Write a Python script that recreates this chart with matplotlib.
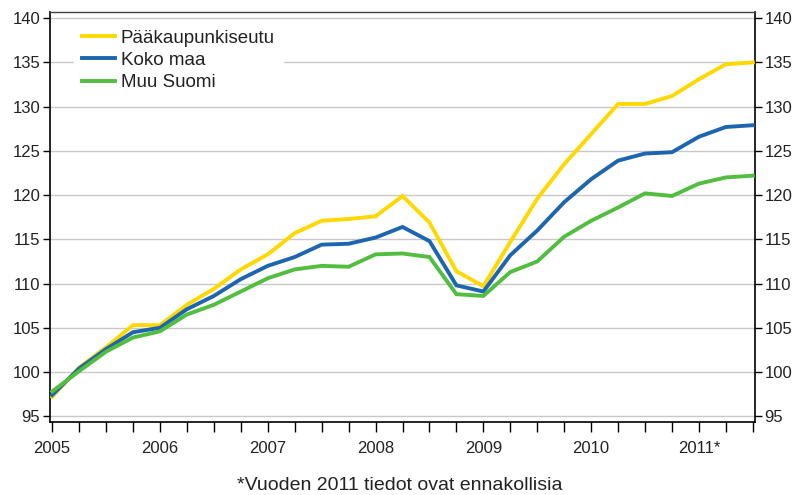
import matplotlib
matplotlib.use("Agg")
import matplotlib.pyplot as plt
import numpy as np

plt.rcParams['font.family'] = ['Liberation Sans', 'DejaVu Sans']

quarters = list(range(27))  # 2005Q1 .. 2011Q3
year_labels = ["2005", "2006", "2007", "2008", "2009", "2010", "2011*"]
year_positions = [0, 4, 8, 12, 16, 20, 24]

paakaupunkiseutu = [97.2, 100.5, 102.8, 105.3, 105.3, 107.6, 109.4, 111.6, 113.3,
                    115.7, 117.1, 117.3, 117.6, 119.9, 116.9, 111.4, 109.7,
                    114.7, 119.6, 123.5, 126.9, 130.3, 130.3, 131.2, 133.1, 134.8, 135.0]
koko_maa = [97.4, 100.4, 102.6, 104.5, 105.0, 107.1, 108.6, 110.5, 112.0,
            113.0, 114.4, 114.5, 115.2, 116.4, 114.8, 109.8, 109.1,
            113.2, 116.0, 119.2, 121.8, 123.9, 124.7, 124.85, 126.6, 127.7, 127.9]
muu_suomi = [97.8, 100.1, 102.3, 103.9, 104.6, 106.5, 107.6, 109.1, 110.6,
             111.6, 112.0, 111.9, 113.3, 113.4, 113.0, 108.8, 108.6,
             111.3, 112.5, 115.3, 117.1, 118.6, 120.2, 119.9, 121.3, 122.0, 122.2]

series = [("Pääkaupunkiseutu", paakaupunkiseutu, "#FFD800"),
          ("Koko maa", koko_maa, "#1D66AF"),
          ("Muu Suomi", muu_suomi, "#52BE40")]

fig = plt.figure(figsize=(7.95, 4.95), dpi=100)
ax = fig.add_axes([50/795, 73/495, 705/795, 410/495])

for name, vals, col in series:
    ax.plot(quarters, vals, color=col, lw=2.8, label=name, solid_joinstyle='miter', zorder=3)

ax.set_xlim(-0.08, 26.08)
ax.set_ylim(94.35, 140.7)
yt = np.arange(95, 141, 5)
ax.set_yticks(yt)
ax.set_yticklabels([str(v) for v in yt])
ax.yaxis.grid(True, color="#C8C8C8", lw=1.0)
ax.set_axisbelow(True)

ax.set_xticks(year_positions)
ax.set_xticklabels(year_labels)
ax.set_xticks(quarters, minor=True)
ax.tick_params(axis='x', which='both', length=7, width=1, direction='out', color='black')
ax.tick_params(axis='x', which='major', pad=7, labelsize=12, labelcolor='#222222')
ax.tick_params(axis='y', which='both', length=5, width=1, direction='out',
               left=True, right=True, labelleft=True, labelright=True,
               labelsize=12, labelcolor='#222222', pad=2)

for s in ["left", "right", "bottom"]:
    ax.spines[s].set_color("black")
    ax.spines[s].set_linewidth(1.2)
ax.spines["top"].set_color("#444444")
ax.spines["top"].set_linewidth(1.0)

leg = ax.legend(loc="upper left", bbox_to_anchor=(24/705, 1 - 9/410), frameon=True,
                fontsize=13.5, handlelength=1.75, handletextpad=0.3,
                labelspacing=0.28, borderaxespad=0.0, borderpad=0.45)
leg.get_frame().set_facecolor("white")
leg.get_frame().set_edgecolor("white")
leg.get_frame().set_alpha(1.0)
leg.get_frame().set_boxstyle("square", pad=0.0)
for t in leg.get_texts():
    t.set_color("#222222")

fig.text(400/795, 1 - 485/495, "*Vuoden 2011 tiedot ovat ennakollisia",
         ha="center", va="center", fontsize=14, color="#222222")

fig.savefig("out.png", dpi=100)
